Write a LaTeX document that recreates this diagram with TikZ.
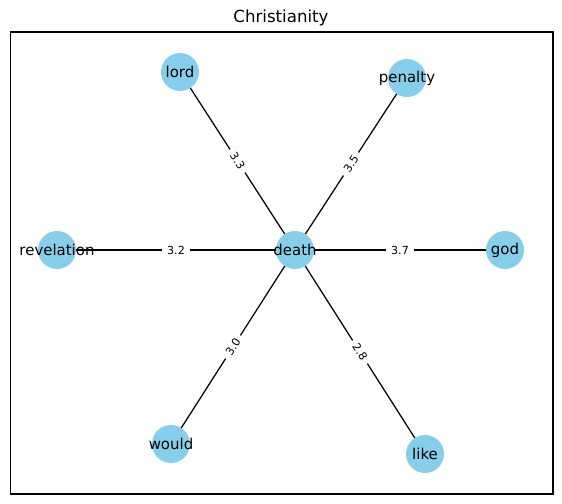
\documentclass[tikz,border=0pt]{standalone}
\usepackage{fontspec}
\setmainfont{DejaVu Sans}
\usetikzlibrary{positioning}
\pgfdeclarelayer{background}
\pgfsetlayers{background,main}

\definecolor{skyblue}{RGB}{135,206,235}
\tikzset{
    word/.style={circle, fill=skyblue, minimum size=0.38in, inner sep=0pt, font=\fontsize{10.8}{13}\selectfont},
    link/.style={line width=0.9pt},
    weight/.style={fill=white, inner xsep=3.5pt, inner ysep=1.5pt, font=\fontsize{8}{9}\selectfont, sloped, pos=0.5}
}
\newcommand{\wordtext}[1]{\makebox[0pt]{#1}}

\begin{document}
\begin{tikzpicture}[x=0.01in, y=-0.01in]
    % Canvas and frame
    \useasboundingbox (0,0) rectangle (562,504);
    \draw[line width=0.8pt] (10.5,32) rectangle (553,494);
    \node (title) at (281,18) {\fontsize{12}{14}\selectfont Christianity};

    % Word nodes
    \node[word] (death) at (295,250) {\wordtext{death}};
    \node[word] (lord) at (180,72) {\wordtext{lord}};
    \node[word] (penalty) at (407,78) {\wordtext{penalty}};
    \node[word] (revelation) at (57,250) {\wordtext{revelation}};
    \node[word] (god) at (505,250) {\wordtext{god}};
    \node[word] (would) at (171,444) {\wordtext{would}};
    \node[word] (like) at (425,454) {\wordtext{like}};

    % Edges with weights, behind the circles
    \begin{pgfonlayer}{background}
    \draw[link] (death.center) -- node[weight] {3.3} (lord.center);
    \draw[link] (death.center) -- node[weight] {3.5} (penalty.center);
    \draw[link] (revelation.center) -- node[weight] {3.2} (death.center);
    \draw[link] (death.center) -- node[weight] {3.7} (god.center);
    \draw[link] (death.center) -- node[weight] {3.0} (would.center);
    \draw[link] (death.center) -- node[weight] {2.8} (like.center);
    \end{pgfonlayer}
\end{tikzpicture}
\end{document}
